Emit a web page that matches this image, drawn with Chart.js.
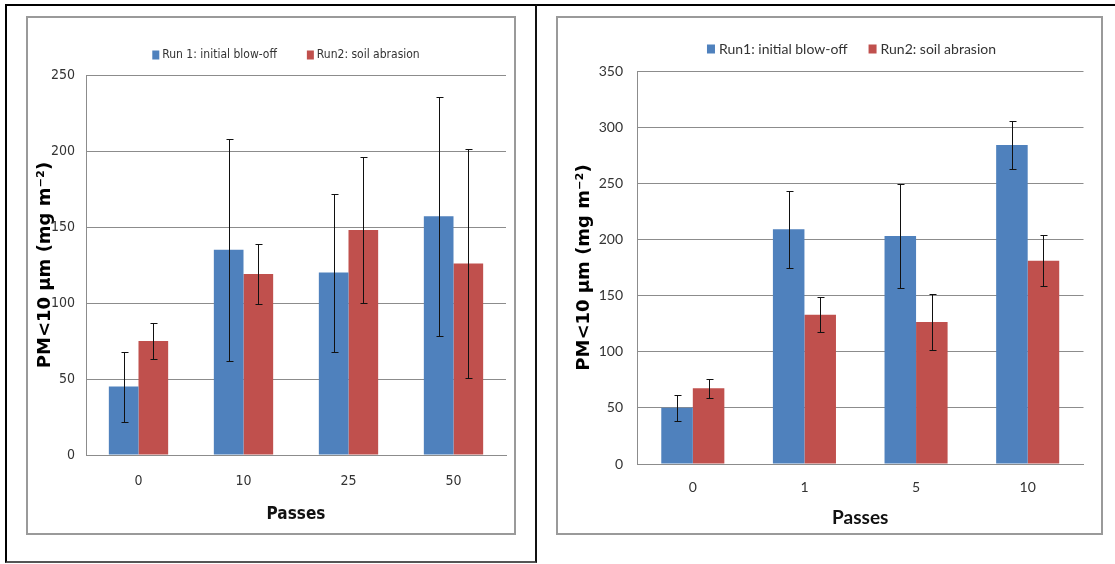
<!DOCTYPE html>
<html>
<head>
<meta charset="utf-8">
<script src="https://cdn.jsdelivr.net/npm/chart.js@4.4.1/dist/chart.umd.min.js"></script>
<style>
  html, body { margin: 0; padding: 0; background: #fff; }
  body { width: 1115px; height: 564px; position: relative; overflow: hidden; }
  .frameL { position: absolute; left: 5px; top: 4px; width: 532px; height: 559px; box-sizing: border-box;
            border-left: 2px solid #000; border-top: 2px solid #000; border-right: 2px solid #111; border-bottom: 2px solid #555; }
  .frameR { position: absolute; left: 537px; top: 4px; width: 578px; height: 2px; background: #000; }
  .box { position: absolute; box-sizing: border-box; border: 2px solid #9a9a9a; background: #fff; }
  .box canvas { display: block; }
</style>
</head>
<body>
<div class="frameL"></div>
<div class="frameR"></div>
<div class="box" id="boxL" style="left:26px; top:16px; width:490px; height:519px;"><canvas id="c1" width="486" height="515"></canvas></div>
<div class="box" id="boxR" style="left:556px; top:16px; width:547px; height:519px;"><canvas id="c2" width="543" height="515"></canvas></div>
<script>
// ---------- data: left chart ----------
const leftCategories = ['0', '10', '25', '50'];
const leftRun1 = [45, 135, 120, 157];
const leftRun1Err = [23, 73, 52, 78.5];
const leftRun2 = [75, 119, 148, 126];
const leftRun2Err = [11.6, 19.5, 48, 75.6];
const leftYTicks = [0, 50, 100, 150, 200, 250];
const leftLabels = ['Run 1: initial blow-off', 'Run2: soil abrasion'];

// ---------- data: right chart ----------
const rightCategories = ['0', '1', '5', '10'];
const rightRun1 = [50, 209, 203, 284];
const rightRun1Err = [11.7, 34.5, 46, 21.5];
const rightRun2 = [67.5, 133, 126.5, 181];
const rightRun2Err = [8.5, 15.5, 25, 22.5];
const rightYTicks = [0, 50, 100, 150, 200, 250, 300, 350];
const rightLabels = ['Run1: initial blow-off', 'Run2: soil abrasion'];

const xTitle = 'Passes';
const yTitle = 'PM<10 µm (mg m\u207B\u00B2)';

const BLUE = '#4F81BD';
const RED = '#C0504D';
const GRID = '#8c8c8c';
const TXT = '#333333';
const NARROW = "'Liberation Sans Narrow', 'DejaVu Sans Condensed', sans-serif";
const CAL = "Lato, 'Liberation Sans', sans-serif";

// error bar plugin
const errorBars = {
  id: 'errorBars',
  afterDatasetsDraw(chart, args, opts) {
    const ctx = chart.ctx;
    const y = chart.scales.y;
    ctx.save();
    ctx.strokeStyle = opts.color || '#111';
    ctx.lineWidth = 1;
    chart.data.datasets.forEach((ds, i) => {
      const meta = chart.getDatasetMeta(i);
      meta.data.forEach((bar, j) => {
        const v = ds.data[j], e = ds.errors[j];
        const x = Math.round(bar.x) + 0.5;
        const yt = Math.round(y.getPixelForValue(v + e)) + 0.5;
        const yb = Math.round(y.getPixelForValue(v - e)) + 0.5;
        const w = opts.cap || 3;
        ctx.beginPath();
        ctx.moveTo(x, yt); ctx.lineTo(x, yb);
        ctx.moveTo(x - w, yt); ctx.lineTo(x + w + 1, yt);
        ctx.moveTo(x - w, yb); ctx.lineTo(x + w + 1, yb);
        ctx.stroke();
      });
    });
    ctx.restore();
  }
};

// legend plugin (horizontal row of colour squares + dataset labels)
const boxLegend = {
  id: 'boxLegend',
  afterDraw(chart, args, o) {
    const ctx = chart.ctx;
    ctx.save();
    ctx.font = o.font;
    ctx.textBaseline = 'middle';
    ctx.fillStyle = TXT;
    const items = chart.data.datasets.map(ds => ({ label: ds.label, color: ds.backgroundColor, w: ctx.measureText(ds.label).width }));
    let total = 0;
    items.forEach((it, k) => { total += o.boxW + o.boxGap + it.w + (k ? o.itemGap : 0); });
    let x = o.cx - total / 2;
    items.forEach(it => {
      ctx.fillStyle = it.color;
      ctx.fillRect(x, o.y - o.boxH / 2, o.boxW, o.boxH);
      x += o.boxW + o.boxGap;
      ctx.fillStyle = TXT;
      ctx.fillText(it.label, x, o.y);
      x += it.w + o.itemGap;
    });
    ctx.restore();
  }
};

function makeChart(id, cfg) {
  return new Chart(document.getElementById(id), {
    type: 'bar',
    data: {
      labels: cfg.categories,
      datasets: [
        { label: cfg.labels[0], data: cfg.run1, errors: cfg.err1, backgroundColor: BLUE, borderWidth: 0 },
        { label: cfg.labels[1], data: cfg.run2, errors: cfg.err2, backgroundColor: RED, borderWidth: 0 }
      ]
    },
    options: {
      responsive: false,
      animation: false,
      devicePixelRatio: 1,
      layout: { padding: { top: cfg.top, right: cfg.padRight, bottom: 0, left: 0 } },
      datasets: { bar: { categoryPercentage: 0.565, barPercentage: 1.0 } },
      plugins: {
        legend: { display: false },
        tooltip: { enabled: false },
        errorBars: { color: '#111', cap: 3 },
        boxLegend: cfg.legend
      },
      scales: {
        x: {
          grid: { display: false, drawTicks: false },
          border: { display: true, color: GRID, width: 1 },
          ticks: { color: TXT, font: { family: cfg.tickFamily, size: cfg.tickSize }, padding: cfg.xTickPad, maxRotation: 0 },
          title: { display: true, text: xTitle, color: '#111', font: { family: cfg.tickFamily, size: cfg.xTitleSize, weight: 'bold' }, padding: { top: 0, bottom: cfg.xTitlePadB } },
          afterFit: s => { s.height = cfg.xAxisH; }
        },
        y: {
          min: 0, max: cfg.yTicks[cfg.yTicks.length - 1],
          afterBuildTicks: s => { s.ticks = cfg.yTicks.map(v => ({ value: v })); },
          grid: { color: GRID, lineWidth: 1, drawTicks: false },
          border: { display: true, color: GRID, width: 1 },
          ticks: { color: TXT, font: { family: cfg.tickFamily, size: cfg.tickSize }, padding: cfg.yTickPad },
          title: { display: true, text: yTitle, color: '#000', font: { family: "'DejaVu Sans', Verdana, sans-serif", size: cfg.yTitleSize, weight: 'bold' }, padding: { top: cfg.yTitlePadT, bottom: 0 } },
          afterFit: s => { s.width = cfg.yAxisW; }
        }
      }
    },
    plugins: [errorBars, boxLegend]
  });
}

makeChart('c1', {
  categories: leftCategories, labels: leftLabels,
  run1: leftRun1, err1: leftRun1Err, run2: leftRun2, err2: leftRun2Err, yTicks: leftYTicks,
  top: 57, padRight: 8, yAxisW: 58, xAxisH: 78,
  tickFamily: NARROW, tickSize: 14, xTickPad: 17.6, yTickPad: 11,
  xTitleSize: 17, xTitlePadB: 8.4,
  yTitleSize: 18, yTitlePadT: 7,
  legend: { font: "12px " + NARROW, cx: 258, y: 37, boxW: 7, boxH: 9, boxGap: 3, itemGap: 30 }
});

makeChart('c2', {
  categories: rightCategories, labels: rightLabels,
  run1: rightRun1, err1: rightRun1Err, run2: rightRun2, err2: rightRun2Err, yTicks: rightYTicks,
  top: 53, padRight: 17.5, yAxisW: 79, xAxisH: 69,
  tickFamily: CAL, tickSize: 14, xTickPad: 15.5, yTickPad: 14,
  xTitleSize: 19, xTitlePadB: 3.6,
  yTitleSize: 18, yTitlePadT: 16,
  legend: { font: "14px " + CAL, cx: 293.5, y: 31, boxW: 8, boxH: 9, boxGap: 4, itemGap: 21 }
});
</script>
</body>
</html>
